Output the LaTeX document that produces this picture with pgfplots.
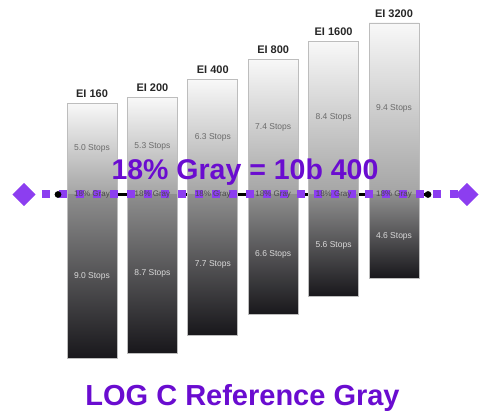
\documentclass[border=0pt]{standalone}
\usepackage{pgfplots}
\pgfplotsset{compat=1.18}
\usepackage{pgfplotstable}
\usepackage{fontspec}
\setmainfont{Liberation Sans}

\definecolor{dotViolet}{HTML}{8C3EF0}
\definecolor{textViolet}{HTML}{6A0CD0}
\definecolor{barTop}{HTML}{F8F8F8}
\definecolor{barMidUp}{HTML}{A4A4A4}
\definecolor{barMidLow}{HTML}{8E8E8E}
\definecolor{barBottom}{HTML}{18171B}
\definecolor{barEdge}{HTML}{BDBDBD}
\definecolor{eiText}{HTML}{262626}
\definecolor{upText}{HTML}{6A6A6A}
\definecolor{lowText}{HTML}{DADADA}
\definecolor{grayText}{HTML}{4A4A4A}

% stops above / below 18% gray for each exposure index
\pgfplotstableread{
x ei above below
0 160 5.0 9.0
1 200 5.3 8.7
2 400 6.3 7.7
3 800 7.4 6.6
4 1600 8.4 5.6
5 3200 9.4 4.6
}\stops

\pgfplotsset{
  upperbar/.style={ybar, bar width=50pt, bar shift=0pt, draw=none,
    top color=barTop, bottom color=barMidUp},
  lowerbar/.style={ybar, bar width=50pt, bar shift=0pt, draw=none,
    top color=barMidLow, bottom color=barBottom},
  baredge/.style={draw=barEdge, line width=0.9pt, fill=none, mark=none},
}

\begin{document}
\begin{tikzpicture}
\path[use as bounding box] (0,0) rectangle (479pt,412pt);
\begin{axis}[
  at={(0,0)}, anchor=south west,
  scale only axis, width=479pt, height=412pt,
  xmin=-1.5232, xmax=6.4073,
  ymin=-11.918, ymax=10.658,
  hide axis, clip=false,
]

% reference line behind the bars
\addplot[black, line width=2.6pt, mark=*, mark size=2pt] coordinates {(-0.563,0) (5.563,0)};

% bars: upper part (above gray) and lower part (below gray)
\addplot[upperbar] coordinates {(0,5.0)};
\addplot[lowerbar] coordinates {(0,-9.0)};
\addplot[upperbar] coordinates {(1,5.3)};
\addplot[lowerbar] coordinates {(1,-8.7)};
\addplot[upperbar] coordinates {(2,6.3)};
\addplot[lowerbar] coordinates {(2,-7.7)};
\addplot[upperbar] coordinates {(3,7.4)};
\addplot[lowerbar] coordinates {(3,-6.6)};
\addplot[upperbar] coordinates {(4,8.4)};
\addplot[lowerbar] coordinates {(4,-5.6)};
\addplot[upperbar] coordinates {(5,9.4)};
\addplot[lowerbar] coordinates {(5,-4.6)};

% bar outlines
\addplot[baredge] coordinates {(-0.414,-9.0) (0.414,-9.0) (0.414,5.0) (-0.414,5.0)} -- cycle;
\addplot[baredge] coordinates {(0.586,-8.7) (1.414,-8.7) (1.414,5.3) (0.586,5.3)} -- cycle;
\addplot[baredge] coordinates {(1.586,-7.7) (2.414,-7.7) (2.414,6.3) (1.586,6.3)} -- cycle;
\addplot[baredge] coordinates {(2.586,-6.6) (3.414,-6.6) (3.414,7.4) (2.586,7.4)} -- cycle;
\addplot[baredge] coordinates {(3.586,-5.6) (4.414,-5.6) (4.414,8.4) (3.586,8.4)} -- cycle;
\addplot[baredge] coordinates {(4.586,-4.6) (5.414,-4.6) (5.414,9.4) (4.586,9.4)} -- cycle;

% EI labels over the bars
\addplot[draw=none, point meta=explicit symbolic,
  nodes near coords={EI \pgfplotspointmeta}, nodes near coords align={south},
  every node near coord/.append style={font=\bfseries\fontsize{11}{13}\selectfont,
    text=eiText, anchor=south, inner sep=0pt, yshift=5.5pt}]
  table[x=x, y=above, meta=ei] {\stops};

% stop counts above gray
\addplot[draw=none, point meta=explicit symbolic,
  nodes near coords={\pgfplotspointmeta~Stops}, nodes near coords align={center},
  every node near coord/.append style={font=\fontsize{8.5}{10}\selectfont,
    text=upText, anchor=center}]
  table[x=x, y expr=\thisrow{above}/2, meta=above] {\stops};

% stop counts below gray
\addplot[draw=none, point meta=explicit symbolic,
  nodes near coords={\pgfplotspointmeta~Stops}, nodes near coords align={center},
  every node near coord/.append style={font=\fontsize{8.5}{10}\selectfont,
    text=lowText, anchor=center}]
  table[x=x, y expr=-\thisrow{below}/2, meta=below] {\stops};

% 18% gray marker text inside each bar
\addplot[draw=none,
  nodes near coords={18\% Gray}, nodes near coords align={center},
  every node near coord/.append style={font=\fontsize{8}{10}\selectfont,
    text=grayText, anchor=center}]
  table[x=x, y expr=0] {\stops};

% violet dotted 18% gray line with diamond ends
\addplot[dotViolet, line width=8pt, line cap=butt, dash pattern=on 8pt off 9pt]
  coordinates {(-0.828,0) (6.06,0)};
\addplot[dotViolet, only marks, mark=square*, mark size=8pt,
  mark options={solid, rotate=45, fill=dotViolet, draw=dotViolet, line width=0.1pt}]
  coordinates {(-1.126,0) (6.209,0)};

\node[anchor=base, font=\bfseries\fontsize{28.5}{32}\selectfont, text=textViolet]
  at (axis cs:2.533,0.822) {18\% Gray = 10b 400};
\node[anchor=base, font=\bfseries\fontsize{29}{33}\selectfont, text=textViolet]
  at (axis cs:2.492,-11.589) {LOG C Reference Gray};
\end{axis}
\end{tikzpicture}
\end{document}
